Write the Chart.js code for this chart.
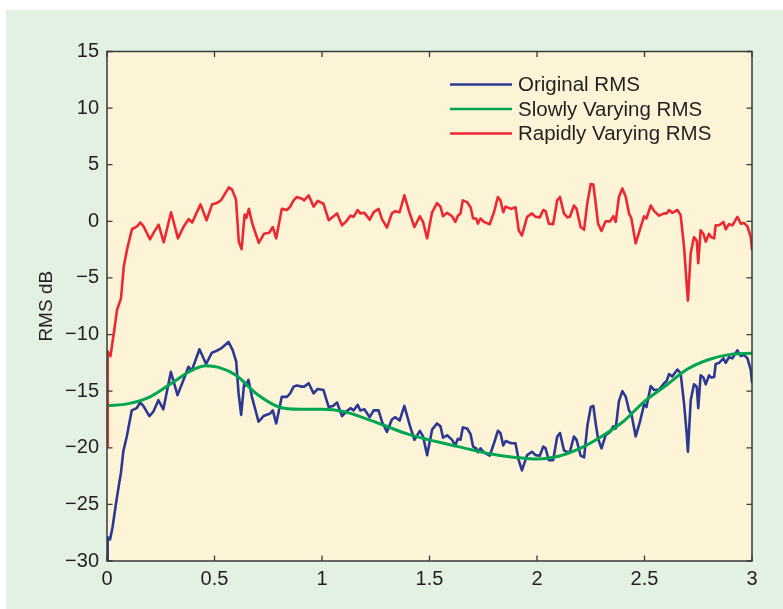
<!DOCTYPE html>
<html>
<head>
<meta charset="utf-8">
<title>RMS dB</title>
<script src="https://cdn.jsdelivr.net/npm/chart.js@4/dist/chart.umd.min.js"></script>
<style>
  html, body { margin: 0; padding: 0; background: #ffffff; }
  #wrap { position: absolute; left: 0; top: 0; width: 783px; height: 609px; }
</style>
</head>
<body>
<div id="wrap"><canvas id="rms" width="783" height="609"></canvas></div>
<script>
// Time axis (s) and RMS level (dB) of the three traces
const origX = [0.000,0.003,0.014,0.026,0.042,0.057,0.065,0.076,0.092,0.115,0.138,0.154,0.169,0.197,0.216,0.239,0.262,0.297,0.328,0.356,0.379,0.394,0.430,0.461,0.488,0.508,0.529,0.565,0.585,0.601,0.612,0.624,0.638,0.646,0.658,0.674,0.705,0.728,0.759,0.771,0.787,0.813,0.837,0.852,0.868,0.883,0.907,0.917,0.938,0.961,0.980,1.007,1.031,1.051,1.070,1.093,1.113,1.132,1.147,1.166,1.178,1.197,1.222,1.240,1.263,1.279,1.302,1.325,1.341,1.361,1.383,1.408,1.430,1.455,1.470,1.489,1.512,1.535,1.551,1.563,1.582,1.605,1.620,1.632,1.644,1.655,1.675,1.691,1.703,1.717,1.725,1.737,1.753,1.780,1.800,1.818,1.830,1.843,1.854,1.880,1.900,1.915,1.930,1.954,1.977,1.993,2.013,2.029,2.040,2.055,2.075,2.094,2.107,2.125,2.141,2.153,2.172,2.184,2.203,2.219,2.234,2.250,2.262,2.273,2.284,2.300,2.319,2.340,2.355,2.366,2.381,2.397,2.413,2.428,2.439,2.459,2.479,2.498,2.509,2.529,2.545,2.568,2.591,2.603,2.614,2.629,2.653,2.668,2.684,2.696,2.702,2.715,2.730,2.743,2.750,2.761,2.774,2.785,2.800,2.811,2.824,2.831,2.847,2.867,2.878,2.893,2.909,2.920,2.932,2.948,2.963,2.979,2.994,3.000];
const origY = [-30.0,-27.9,-28.1,-27.0,-24.9,-23.1,-22.2,-20.3,-19.0,-16.7,-16.5,-16.0,-16.3,-17.2,-16.8,-15.8,-16.6,-13.3,-15.35,-14.0,-12.85,-13.2,-11.3,-12.6,-11.6,-11.45,-11.25,-10.65,-11.4,-12.4,-15.2,-17.1,-14.3,-14.5,-14.0,-15.5,-17.7,-17.2,-16.97,-16.7,-17.85,-15.5,-15.5,-15.2,-14.6,-14.5,-14.6,-14.6,-14.3,-15.2,-14.8,-14.9,-16.4,-16.3,-16.0,-17.2,-16.8,-16.5,-16.7,-16.2,-16.7,-16.6,-17.3,-16.7,-16.7,-17.7,-18.6,-17.5,-17.3,-17.6,-16.3,-18.0,-19.3,-18.5,-19.0,-20.65,-18.4,-17.85,-18.1,-19.1,-18.9,-19.3,-19.8,-19.2,-19.3,-18.2,-18.3,-18.8,-19.9,-20.05,-20.4,-20.05,-20.4,-20.7,-19.6,-18.5,-18.7,-19.8,-19.4,-19.6,-19.6,-21.1,-22.0,-20.65,-20.35,-20.65,-20.7,-19.9,-20.05,-21.1,-21.1,-19.0,-18.7,-20.2,-20.4,-20.35,-19.0,-19.3,-20.7,-20.85,-18.1,-16.4,-16.3,-17.85,-19.2,-20.05,-18.9,-18.6,-18.1,-18.3,-15.9,-15.0,-15.5,-16.7,-17.0,-19.0,-17.7,-16.15,-16.4,-14.55,-14.9,-14.85,-14.3,-14.1,-13.5,-13.7,-13.1,-13.4,-16.1,-18.7,-20.35,-15.8,-14.4,-14.6,-16.5,-13.6,-13.8,-14.4,-13.6,-13.8,-13.75,-12.6,-12.5,-12.1,-12.5,-12.0,-12.1,-11.75,-11.4,-11.9,-11.8,-12.1,-13.1,-14.2];

const slowX = [0,0.1,0.2,0.3,0.4,0.46,0.52,0.6,0.7,0.8,0.9,1.0,1.1,1.2,1.3,1.4,1.5,1.6,1.7,1.8,1.9,2.0,2.1,2.2,2.3,2.4,2.5,2.6,2.7,2.8,2.9,3.0];
const slowY = [-16.3,-16.1,-15.5,-14.3,-13.1,-12.75,-12.9,-13.6,-15.3,-16.4,-16.6,-16.6,-16.8,-17.4,-18.1,-18.8,-19.3,-19.75,-20.2,-20.6,-20.85,-21.0,-20.75,-20.05,-19.0,-17.7,-15.9,-14.5,-13.05,-12.2,-11.75,-11.65];

const rapidX = [0.000,0.003,0.016,0.030,0.047,0.065,0.078,0.093,0.116,0.140,0.155,0.170,0.200,0.217,0.240,0.264,0.298,0.330,0.357,0.380,0.396,0.435,0.463,0.489,0.509,0.530,0.567,0.582,0.600,0.613,0.626,0.640,0.648,0.660,0.675,0.706,0.730,0.755,0.771,0.787,0.813,0.837,0.852,0.868,0.883,0.907,0.917,0.938,0.961,0.980,1.007,1.031,1.051,1.070,1.093,1.113,1.132,1.147,1.166,1.178,1.197,1.222,1.240,1.263,1.279,1.302,1.325,1.341,1.361,1.383,1.408,1.430,1.455,1.470,1.489,1.512,1.535,1.551,1.563,1.582,1.605,1.620,1.632,1.644,1.655,1.675,1.691,1.703,1.717,1.725,1.737,1.753,1.780,1.800,1.818,1.830,1.843,1.854,1.880,1.900,1.915,1.930,1.954,1.977,1.993,2.013,2.029,2.040,2.055,2.075,2.094,2.107,2.125,2.141,2.153,2.172,2.184,2.203,2.219,2.234,2.250,2.262,2.273,2.284,2.300,2.319,2.340,2.355,2.366,2.381,2.397,2.413,2.428,2.439,2.459,2.479,2.498,2.509,2.529,2.545,2.568,2.591,2.603,2.614,2.629,2.653,2.668,2.684,2.696,2.702,2.715,2.730,2.743,2.750,2.761,2.774,2.785,2.800,2.811,2.824,2.831,2.847,2.867,2.878,2.893,2.909,2.920,2.932,2.948,2.963,2.979,2.994,3.000];
const rapidY = [-19.9,-11.5,-11.9,-10.1,-7.8,-6.8,-4.0,-2.5,-0.7,-0.45,-0.1,-0.45,-1.6,-1.0,-0.3,-1.85,0.8,-1.5,-0.45,0.2,-0.1,1.5,0.1,1.5,1.6,1.85,3.0,2.8,1.9,-1.8,-2.45,0.6,0.3,1.1,-0.15,-1.9,-1.1,-1.0,-0.5,-1.5,1.1,1.0,1.3,1.85,2.15,2.0,1.85,2.3,1.3,1.8,1.55,0.1,0.4,0.7,-0.35,0.0,0.5,0.4,1.0,0.7,0.75,0.15,0.8,1.1,0.2,-0.55,0.7,0.9,0.8,2.3,0.7,-0.5,0.45,-0.05,-1.5,0.8,1.6,1.3,0.45,0.75,0.45,-0.05,0.5,0.7,1.85,1.7,1.25,0.25,0.25,-0.2,0.25,-0.05,-0.25,0.8,2.15,1.85,0.8,1.3,1.1,1.25,-0.8,-1.25,0.4,0.7,0.4,0.35,1.0,0.9,-0.2,-0.25,1.85,2.15,0.7,0.35,0.4,1.4,1.1,-0.5,-0.75,1.6,3.3,3.25,1.6,-0.2,-0.85,0.0,0.0,0.45,-0.05,2.15,2.9,2.15,0.7,0.25,-1.95,-0.7,0.45,0.25,1.4,0.9,0.5,0.7,0.7,1.0,0.75,1.0,0.55,-2.25,-5.5,-7.0,-2.8,-1.4,-1.7,-3.7,-0.8,-1.1,-1.8,-1.1,-1.4,-1.5,-0.35,-0.35,-0.05,-0.7,-0.25,-0.35,0.0,0.4,-0.2,-0.15,-0.45,-1.4,-2.5];

// Axis ranges and tick steps
const xTicks = [0, 0.5, 1, 1.5, 2, 2.5, 3];
const yTicks = [-30, -25, -20, -15, -10, -5, 0, 5, 10, 15];
const seriesNames = ['Original RMS', 'Slowly Varying RMS', 'Rapidly Varying RMS'];

const pairs = (xs, ys) => xs.map((x, i) => ({ x: x, y: ys[i] }));
const minus = v => (v < 0 ? '\u2212' + Math.abs(v) : String(v));

const FONT = '"Liberation Sans", Arial, Helvetica, sans-serif';
const INK = '#231f20';

// Panel backgrounds: light green page, pale yellow plot area
const backdrop = {
  id: 'backdrop',
  beforeDraw(chart) {
    const { ctx, chartArea: a } = chart;
    ctx.save();
    ctx.fillStyle = '#ffffff';
    ctx.fillRect(0, 0, chart.width, chart.height);
    ctx.fillStyle = '#e3f1e3';
    ctx.fillRect(6, 10, chart.width - 6, chart.height - 10);
    ctx.fillStyle = '#fdf3d7';
    ctx.fillRect(a.left, a.top, a.right - a.left, a.bottom - a.top);
    ctx.restore();
  }
};

// Box frame, inward ticks on all four sides, and the legend
const frame = {
  id: 'frame',
  afterDraw(chart) {
    const { ctx, chartArea: a, scales } = chart;
    ctx.save();
    ctx.strokeStyle = '#3a3a3a';
    ctx.lineWidth = 1.5;
    ctx.strokeRect(a.left, a.top, a.right - a.left, a.bottom - a.top);
    ctx.lineWidth = 1.3;
    const tl = 5.5;
    ctx.beginPath();
    scales.x.ticks.forEach(t => {
      const px = scales.x.getPixelForValue(t.value);
      ctx.moveTo(px, a.bottom); ctx.lineTo(px, a.bottom - tl);
      ctx.moveTo(px, a.top); ctx.lineTo(px, a.top + tl);
    });
    scales.y.ticks.forEach(t => {
      const py = scales.y.getPixelForValue(t.value);
      ctx.moveTo(a.left, py); ctx.lineTo(a.left + tl, py);
      ctx.moveTo(a.right, py); ctx.lineTo(a.right - tl, py);
    });
    ctx.stroke();

    // legend
    const rows = [a.top + 33, a.top + 57.5, a.top + 82];
    const x0 = a.right - 302, x1 = a.right - 240, tx = a.right - 234;
    ctx.font = '20.5px ' + FONT;
    ctx.textBaseline = 'middle';
    ctx.textAlign = 'left';
    chart.data.datasets.forEach((ds, i) => {
      ctx.strokeStyle = ds.borderColor;
      ctx.lineWidth = 2.5;
      ctx.beginPath();
      ctx.moveTo(x0, rows[i]); ctx.lineTo(x1, rows[i]);
      ctx.stroke();
      ctx.fillStyle = INK;
      ctx.fillText(ds.label, tx, rows[i] + 1);
    });
    ctx.restore();
  }
};

const lineStyle = { pointRadius: 0, borderWidth: 2.6, tension: 0, fill: false, borderJoinStyle: 'round', borderCapStyle: 'round' };

new Chart(document.getElementById('rms'), {
  type: 'line',
  data: {
    datasets: [
      Object.assign({ label: seriesNames[0], data: pairs(origX, origY), borderColor: '#2b3992', order: 3 }, lineStyle),
      Object.assign({ label: seriesNames[1], data: pairs(slowX, slowY), borderColor: '#00a651', order: 2, cubicInterpolationMode: 'monotone', borderWidth: 3 }, { pointRadius: 0, fill: false }),
      Object.assign({ label: seriesNames[2], data: pairs(rapidX, rapidY), borderColor: '#ee2830', order: 1 }, lineStyle)
    ]
  },
  options: {
    responsive: false,
    devicePixelRatio: 1,
    animation: false,
    layout: { padding: { left: 0, top: 51.5, right: 31, bottom: 0 } },
    plugins: { legend: { display: false }, tooltip: { enabled: false } },
    scales: {
      x: {
        type: 'linear',
        min: 0, max: 3,
        afterBuildTicks: s => { s.ticks = xTicks.map(v => ({ value: v })); },
        afterFit: s => { s.height = 48; },
        grid: { display: false, drawTicks: false },
        border: { display: false },
        ticks: { color: INK, font: { family: FONT, size: 20 }, padding: 6, maxRotation: 0, callback: v => String(v) }
      },
      y: {
        type: 'linear',
        min: -30, max: 15,
        afterBuildTicks: s => { s.ticks = yTicks.map(v => ({ value: v })); },
        afterFit: s => { s.width = 107; },
        grid: { display: false, drawTicks: false },
        border: { display: false },
        title: { display: true, text: 'RMS dB', color: INK, font: { family: FONT, size: 19 }, padding: { top: 35, bottom: 0 } },
        ticks: { color: INK, font: { family: FONT, size: 20 }, padding: 8, callback: v => minus(v) }
      }
    }
  },
  plugins: [backdrop, frame]
});
</script>
</body>
</html>
